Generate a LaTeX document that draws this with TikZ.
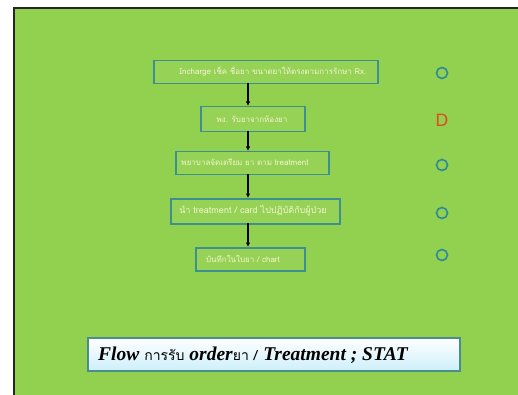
\documentclass[tikz,border=0pt]{standalone}
\usepackage{fontspec}
\setmainfont{Liberation Serif}
\newfontfamily\thaifont[Script=Thai]{Loma}
\usetikzlibrary{arrows.meta}
\definecolor{bggreen}{HTML}{92D050}
\definecolor{boxgreen}{HTML}{96D256}
\definecolor{boxedge}{HTML}{3E9090}
\definecolor{boxtext}{HTML}{F4F4D0}
\definecolor{circteal}{HTML}{2E8A96}
\definecolor{dred}{HTML}{D9501E}
\definecolor{lightcyan}{HTML}{CDEFFA}
\tikzset{
  flowbox/.style={draw=boxedge, line width=1.5pt, fill=boxgreen, inner sep=0pt, anchor=north west},
  boxlabel/.style={text=boxtext, font=\thaifont\fontsize{8}{9}\selectfont, inner sep=0pt},
  mark circle/.style={circle, draw=circteal, line width=1.6pt, minimum size=11pt, inner sep=0pt},
  flowarrow/.style={draw=black, line width=1.1pt, -{Latex[length=4.5pt,width=4.5pt]}},
}
\begin{document}
\begin{tikzpicture}[x=1pt,y=-1pt]
\useasboundingbox (0,0) rectangle (518,395);
\fill[white] (0,0) rectangle (518,395);
\fill[bggreen] (14,8) rectangle (518,395);
\draw[black!85, line width=2pt] (14,395) -- (14,8) -- (518,8);
% boxes
\node[flowbox, minimum width=224pt, minimum height=23pt] (b1) at (153,60) {};
\node[flowbox, minimum width=104pt, minimum height=25pt] (b2) at (200,106) {};
\node[flowbox, minimum width=153pt, minimum height=23pt] (b3) at (175,151) {};
\node[flowbox, minimum width=169pt, minimum height=25pt] (b4) at (170,198) {};
\node[flowbox, minimum width=109pt, minimum height=23pt] (b5) at (195,247) {};
% labels
\node[boxlabel] (t1) at (273,71.5) {Incharge เช็ค ชื่อยา ขนาดยาให้ตรงตามการรักษา Rx.};
\node[boxlabel] (t2) at (252,119) {พง. รับยาจากห้องยา};
\node[boxlabel] (t3) at (245,162.5) {พยาบาลจัดเตรียม ยา ตาม treatment};
\node[boxlabel, font=\thaifont\fontsize{9}{10}\selectfont] (t4) at (253,210.5) {นำ treatment / card ไปปฏิบัติกับผู้ป่วย};
\node[boxlabel] (t5) at (243,258.5) {บันทึกในใบยา / chart};
% arrows
\coordinate (a1) at (248,83);
\coordinate (a2) at (248,131);
\coordinate (a3) at (248,174);
\coordinate (a4) at (248,223);
\draw[flowarrow] (a1) -- (a1 |- b2.north);
\draw[flowarrow] (a2) -- (a2 |- b3.north);
\draw[flowarrow] (a3) -- (a3 |- b4.north);
\draw[flowarrow] (a4) -- (a4 |- b5.north);
% marks
\node[mark circle] (c1) at (442,73) {};
\node[text=dred, font=\fontspec{DejaVu Sans}\fontsize{17}{18}\selectfont, inner sep=0pt] (d2) at (442,120) {D};
\node[mark circle] (c3) at (442,165) {};
\node[mark circle] (c4) at (442,213) {};
\node[mark circle] (c5) at (442,255) {};
% title box
\shade[top color=white, bottom color=lightcyan] (88,338) rectangle (460,371);
\draw[boxedge!80!gray, line width=1.2pt] (88,338) rectangle (460,371);
\node[anchor=west, inner sep=0pt, font=\fontsize{19.5}{20}\selectfont] (title) at (98,355)
  {\textbf{\textit{Flow}} {\thaifont\fontsize{14}{16}\selectfont การรับ} \textbf{\textit{order}}{\thaifont\fontsize{14}{16}\selectfont ยา /} \textbf{\textit{Treatment ; STAT}}};
\end{tikzpicture}
\end{document}
